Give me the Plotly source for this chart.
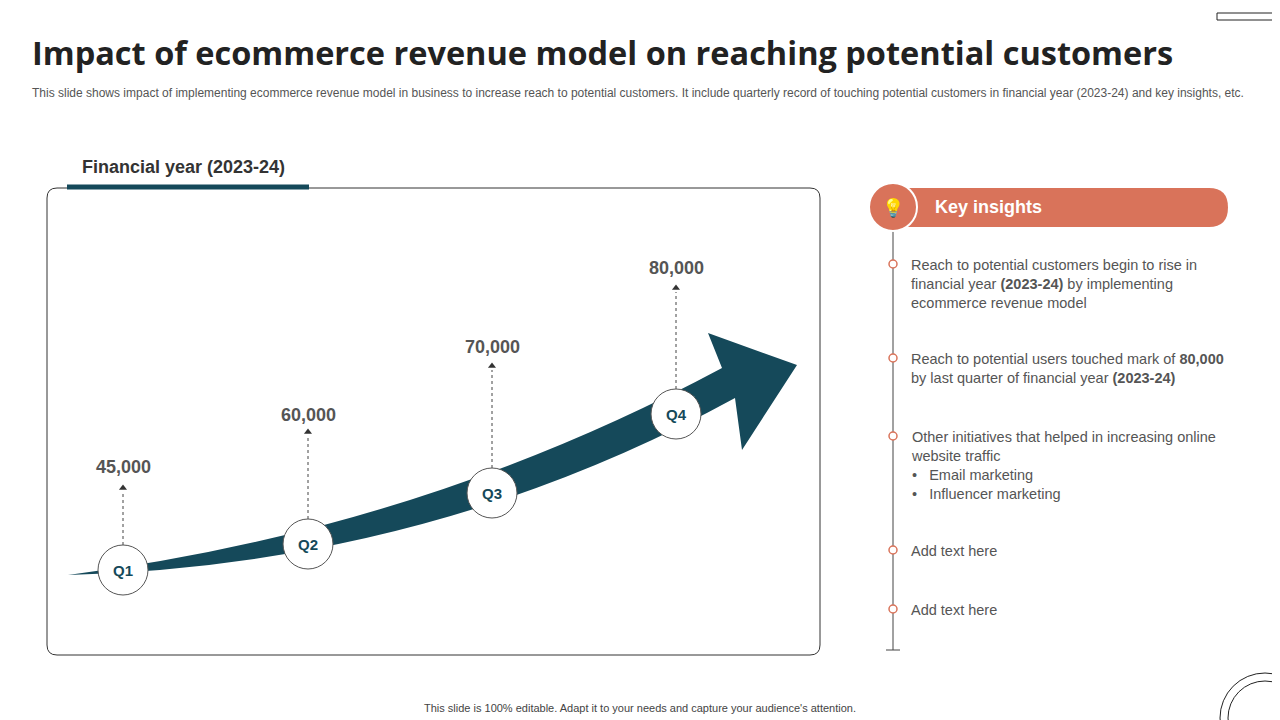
import plotly.graph_objects as go

# data
quarters = ["Q1", "Q2", "Q3", "Q4"]
customers = [45000, 60000, 70000, 80000]
insights = [
    "Reach to potential customers begin to rise in<br>financial year <b>(2023-24)</b> by implementing<br>ecommerce revenue model",
    "Reach to potential users touched mark of <b>80,000</b><br>by last quarter of financial year <b>(2023-24)</b>",
    "Other initiatives that helped in increasing online<br>website traffic<br>•   Email marketing<br>•   Influencer marketing",
    "Add text here",
    "Add text here",
]

# layout constants (pixel canvas)
q_x = [123, 308, 492, 676]
q_y = [570, 544, 493, 414]
label_y = [467, 415, 347, 268]
tip_y = [488, 432, 366, 288]
ins_y = [264, 358, 436, 550, 609]

TEAL = "#15495A"
ORANGE = "#D9735A"
FONT = "Liberation Sans, Arial, sans-serif"

fig = go.Figure()
shapes = []
annotations = []

# left panel
shapes.append(dict(type="path", path="M 57,188 L 810,188 Q 820,188 820,198 L 820,645 Q 820,655 810,655 "
                   "L 57,655 Q 47,655 47,645 L 47,198 Q 47,188 57,188 Z",
                   line=dict(color="#333333", width=1), fillcolor="white", layer="below"))
shapes.append(dict(type="line", x0=67, x1=309, y0=187, y1=187, line=dict(color=TEAL, width=5)))
# arrow
shapes.append(dict(type="path",
                   path="M 68,575 Q 420,530 722,368 L 708,333 L 797,365 L 742,450 L 735,398 Q 430,565 68,575 Z",
                   fillcolor=TEAL, line=dict(width=0), layer="below"))

for i, q in enumerate(quarters):
    fig.add_trace(go.Scatter(x=[q_x[i], q_x[i]], y=[q_y[i] - 25, tip_y[i] + 4], mode="lines",
                             line=dict(color="#444444", width=1, dash="dot"), hoverinfo="skip"))
    fig.add_trace(go.Scatter(x=[q_x[i]], y=[tip_y[i]], mode="markers",
                             marker=dict(symbol="triangle-up", size=7, color="#333333"), hoverinfo="skip"))
    shapes.append(dict(type="circle", x0=q_x[i] - 25, x1=q_x[i] + 25, y0=q_y[i] - 25, y1=q_y[i] + 25,
                       fillcolor="white", line=dict(color="#555555", width=1)))
    annotations.append(dict(x=q_x[i], y=q_y[i], text=f"<b>{q}</b>", showarrow=False,
                            font=dict(size=15, color=TEAL, family=FONT)))
    annotations.append(dict(x=q_x[i], y=label_y[i], text=f"<b>{customers[i]:,}</b>", showarrow=False,
                            font=dict(size=18, color="#555555", family=FONT)))

# right panel
shapes.append(dict(type="path",
                   path="M 890,188 L 1209,188 Q 1228,188 1228,207.5 Q 1228,227 1209,227 L 890,227 Z",
                   fillcolor=ORANGE, line=dict(width=0)))
shapes.append(dict(type="line", x0=893, x1=893, y0=227, y1=650, line=dict(color="#444444", width=1)))
shapes.append(dict(type="line", x0=886, x1=900, y0=650, y1=650, line=dict(color="#444444", width=1)))
shapes.append(dict(type="circle", x0=869, x1=917, y0=183, y1=231, fillcolor=ORANGE,
                   line=dict(color="white", width=2)))
annotations.append(dict(x=893, y=207, text="💡", showarrow=False, font=dict(size=18, color="white")))
annotations.append(dict(x=933, y=207, text="<b>Key insights</b>", showarrow=False, xanchor="left",
                        font=dict(size=18, color="white", family=FONT)))
for i, t in enumerate(insights):
    shapes.append(dict(type="circle", x0=889, x1=897, y0=ins_y[i] - 4, y1=ins_y[i] + 4,
                       fillcolor="white", line=dict(color=ORANGE, width=1.5)))
    annotations.append(dict(x=909, y=ins_y[i] - 9, text=t, showarrow=False, xanchor="left", yanchor="top",
                            align="left", font=dict(size=14.5, color="#555555", family=FONT)))

# headers and decorations
annotations.append(dict(x=30, y=52, text="<b>Impact of ecommerce revenue model on reaching potential customers</b>",
                        showarrow=False, xanchor="left", font=dict(size=32.5, color="#222222", family="Open Sans")))
annotations.append(dict(x=30, y=93, text="This slide shows impact of implementing ecommerce revenue model in business to increase reach to potential customers. It include quarterly record of touching potential customers in financial year (2023-24) and key insights, etc.",
                        showarrow=False, xanchor="left", font=dict(size=12, color="#555555", family=FONT)))
annotations.append(dict(x=80, y=167, text="<b>Financial year (2023-24)</b>", showarrow=False, xanchor="left",
                        font=dict(size=18, color="#333333", family=FONT)))
annotations.append(dict(x=640, y=708, text="This slide is 100% editable. Adapt it to your needs and capture your audience's attention.",
                        showarrow=False, font=dict(size=11, color="#444444", family=FONT)))
shapes.append(dict(type="rect", x0=1217, x1=1285, y0=13, y1=20, line=dict(color="#222222", width=1)))
shapes.append(dict(type="circle", x0=1220, x1=1310, y0=673, y1=763, line=dict(color="#222222", width=1)))
shapes.append(dict(type="circle", x0=1228, x1=1302, y0=681, y1=755, line=dict(color="#222222", width=1)))

# ranges shifted by 8px to compensate for the page's body margin
fig.update_layout(
    width=1280, height=720, margin=dict(l=0, r=0, t=0, b=0),
    paper_bgcolor="white", plot_bgcolor="white", showlegend=False,
    xaxis=dict(range=[8, 1288], visible=False, fixedrange=True),
    yaxis=dict(range=[728, 8], visible=False, fixedrange=True),
    shapes=shapes, annotations=annotations,
)
fig.write_html("out.html")
